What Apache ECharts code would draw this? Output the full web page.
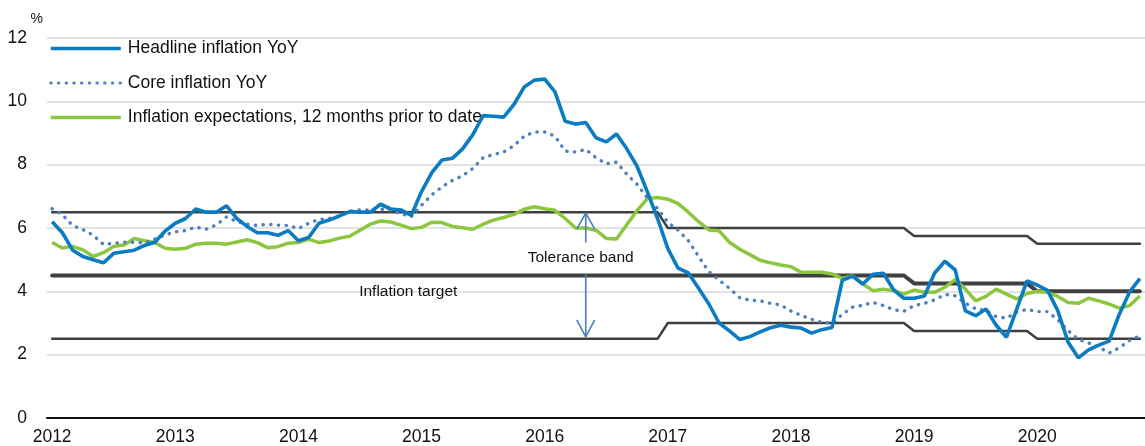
<!DOCTYPE html>
<html>
<head>
<meta charset="utf-8">
<script src="https://cdn.jsdelivr.net/npm/echarts@6/dist/echarts.min.js"></script>
<style>
  html, body { margin: 0; padding: 0; background: #fff; }
  #chart { width: 1145px; height: 446px; }
</style>
</head>
<body>
<div id="chart"></div>
<script>
// ---- DATA ----
const years = [2012, 2013, 2014, 2015, 2016, 2017, 2018, 2019, 2020];
const lastMonthOf2020 = 11;

// Headline inflation YoY, monthly from Jan 2012 to Nov 2020
const headline = [
  6.2, 5.85, 5.3, 5.1, 5.0, 4.9, 5.2, 5.25, 5.3, 5.45, 5.55, 5.9,
  6.15, 6.3, 6.6, 6.5, 6.5, 6.7, 6.3, 6.05, 5.85, 5.85, 5.77, 5.92,
  5.6, 5.7, 6.15, 6.25, 6.38, 6.52, 6.5, 6.5, 6.75, 6.6, 6.57, 6.4,
  7.15, 7.75, 8.15, 8.2, 8.5, 8.95, 9.55, 9.53, 9.5, 9.9, 10.45, 10.67,
  10.7, 10.3, 9.37, 9.28, 9.33, 8.85, 8.72, 8.97, 8.5, 7.95, 7.15, 6.3,
  5.35, 4.73, 4.58, 4.1, 3.6, 3.0, 2.75, 2.48, 2.57, 2.72, 2.85, 2.93,
  2.87, 2.84, 2.68, 2.79, 2.86, 4.35, 4.48, 4.23, 4.54, 4.57, 4.05, 3.78,
  3.78, 3.85, 4.58, 4.95, 4.68, 3.38, 3.23, 3.44, 2.93, 2.55, 3.44, 4.33,
  4.2, 4.03, 3.39, 2.4, 1.9, 2.15, 2.3, 2.43, 3.28, 3.98, 4.4
];

// Core inflation YoY
const core = [
  6.61, 6.42, 6.08, 5.95, 5.77, 5.48, 5.52, 5.55, 5.55, 5.53, 5.65, 5.78,
  5.88, 5.92, 6.03, 5.96, 6.1, 6.35, 6.2, 6.12, 6.08, 6.12, 6.09, 6.08,
  5.98, 6.15, 6.27, 6.3, 6.38, 6.53, 6.57, 6.57, 6.6, 6.56, 6.45, 6.36,
  6.72, 7.05, 7.3, 7.5, 7.65, 7.88, 8.22, 8.32, 8.4, 8.6, 8.9, 9.03,
  9.03, 8.9, 8.43, 8.4, 8.48, 8.22, 8.03, 8.08, 7.7, 7.38, 6.95, 6.62,
  6.18, 5.93, 5.6, 5.1, 4.62, 4.35, 4.1, 3.8, 3.72, 3.7, 3.62, 3.57,
  3.38, 3.24, 3.12, 3.02, 3.0, 3.27, 3.5, 3.56, 3.65, 3.55, 3.42, 3.37,
  3.55, 3.62, 3.73, 3.9, 3.86, 3.62, 3.45, 3.39, 3.2, 3.15, 3.35, 3.43,
  3.36, 3.36, 3.1, 2.76, 2.48, 2.37, 2.24, 2.05, 2.22, 2.45, 2.6
];

// Inflation expectations, 12 months prior to date
const expectations = [
  5.54, 5.37, 5.42, 5.31, 5.1, 5.22, 5.42, 5.46, 5.67, 5.6, 5.54, 5.36,
  5.33, 5.36, 5.49, 5.52, 5.52, 5.49, 5.56, 5.63, 5.54, 5.38, 5.41, 5.52,
  5.54, 5.65, 5.54, 5.59, 5.68, 5.74, 5.93, 6.12, 6.22, 6.19, 6.09, 5.98,
  6.02, 6.18, 6.17, 6.05, 6.01, 5.96, 6.12, 6.25, 6.33, 6.43, 6.59, 6.67,
  6.61, 6.56, 6.3, 6.0, 6.0, 5.93, 5.67, 5.65, 6.1, 6.55, 6.93, 6.96,
  6.91, 6.77, 6.5, 6.2, 5.94, 5.91, 5.55, 5.33, 5.16, 4.98, 4.9, 4.83,
  4.78, 4.6, 4.6, 4.6, 4.55, 4.41, 4.49, 4.23, 4.02, 4.07, 4.02, 3.91,
  4.04, 3.97, 3.97, 4.13, 4.37, 4.07, 3.7, 3.84, 4.07, 3.91, 3.76, 3.93,
  4.0, 3.97, 3.84, 3.65, 3.62, 3.78, 3.7, 3.6, 3.47, 3.55, 3.85
];

// Target and tolerance band by year (2012..2020)
const toleranceUpperByYear = [6.5, 6.5, 6.5, 6.5, 6.5, 6.0, 6.0, 5.75, 5.5];
const targetByYear         = [4.5, 4.5, 4.5, 4.5, 4.5, 4.5, 4.5, 4.25, 4.0];
const toleranceLowerByYear = [2.5, 2.5, 2.5, 2.5, 2.5, 3.0, 3.0, 2.75, 2.5];

const yTicks = [0, 2, 4, 6, 8, 10, 12];

// ---- BUILD ----
const categories = [];
const yearIdx = [];
years.forEach((y, yi) => {
  const n = (y === 2020) ? lastMonthOf2020 : 12;
  for (let m = 1; m <= n; m++) {
    categories.push(y + '-' + (m < 10 ? '0' + m : m));
    yearIdx.push(yi);
  }
});
const upper = yearIdx.map(i => toleranceUpperByYear[i]);
const target = yearIdx.map(i => targetByYear[i]);
const lower = yearIdx.map(i => toleranceLowerByYear[i]);

const FONT = '"Liberation Sans Narrow", "Arial Narrow", "Liberation Sans", Arial, sans-serif';
const isJan = (idx, val) => String(val).slice(5) === '01';

const C_HEAD = '#0b7cc1', C_CORE = '#4f7fc2', C_EXP = '#8cc63f';
const DOTS = [0.3, 7.4];

const chart = echarts.init(document.getElementById('chart'), null, { renderer: 'canvas' });

const bandLine = (name, data, w) => ({
  name, type: 'line', data, symbol: 'none', silent: true, z: 1,
  lineStyle: { color: '#404040', width: w, cap: 'round' },
  emphasis: { disabled: true }
});

chart.setOption({
  animation: false,
  textStyle: { fontFamily: FONT },
  grid: { left: 47, top: 38, width: 1105, height: 380 },
  legend: {
    orient: 'vertical', left: 44, top: 34.5,
    itemWidth: 70, itemHeight: 14, itemGap: 16.5,
    itemStyle: { opacity: 0 },
    data: [
      { name: 'Headline inflation YoY', itemStyle: { opacity: 0 }, lineStyle: { color: C_HEAD, width: 3.6 } },
      { name: 'Core inflation YoY', itemStyle: { opacity: 0 }, lineStyle: { color: C_CORE, width: 3.2, type: DOTS, cap: 'round' } },
      { name: 'Inflation expectations, 12 months prior to date', itemStyle: { opacity: 0 }, lineStyle: { color: C_EXP, width: 3.6 } }
    ],
    textStyle: { fontFamily: FONT, fontSize: 17.5, color: '#111', padding: [0, 0, 0, 2] },
    selectedMode: false
  },
  xAxis: {
    type: 'category', data: categories, boundaryGap: true,
    axisLine: { lineStyle: { color: '#111', width: 2 } },
    axisTick: { interval: isJan, inside: true, length: 5, lineStyle: { color: '#111', width: 1.5 } },
    axisLabel: {
      interval: isJan, formatter: v => v.slice(0, 4),
      fontFamily: FONT, fontSize: 17.5, color: '#111', margin: 10
    },
    splitLine: { show: false }
  },
  yAxis: {
    type: 'value', min: 0, max: 12, interval: 2,
    name: '%', nameLocation: 'end', nameGap: 12,
    nameTextStyle: { fontFamily: FONT, fontSize: 14, color: '#111', align: 'right', padding: [0, 4, 0, 0] },
    axisLine: { show: false }, axisTick: { show: false },
    axisLabel: { fontFamily: FONT, fontSize: 17.5, color: '#111', margin: 20,
      formatter: v => yTicks.indexOf(v) >= 0 ? String(v) : '' },
    splitLine: { lineStyle: { color: '#d9d9d9', width: 1.5 } }
  },
  series: [
    bandLine('Upper tolerance', upper, 2.5),
    bandLine('Inflation target', target, 4),
    bandLine('Lower tolerance', lower, 2.5),
    {
      name: 'Inflation expectations, 12 months prior to date', type: 'line', data: expectations,
      symbol: 'none', z: 3, lineStyle: { color: C_EXP, width: 3.5 }, itemStyle: { color: C_EXP }
    },
    {
      name: 'Core inflation YoY', type: 'line', data: core,
      symbol: 'none', z: 4,
      lineStyle: { color: C_CORE, width: 3.4, type: DOTS, cap: 'round' },
      itemStyle: { color: C_CORE }
    },
    {
      name: 'Headline inflation YoY', type: 'line', data: headline,
      symbol: 'none', z: 5, lineStyle: { color: C_HEAD, width: 3.6 }, itemStyle: { color: C_HEAD }
    }
  ]
});

// ---- annotations positioned through the chart's own scales ----
const arrowCat = '2016-05';
const pTop = chart.convertToPixel({ gridIndex: 0 }, [arrowCat, 6.5]);
const pBot = chart.convertToPixel({ gridIndex: 0 }, [arrowCat, 2.5]);
const pTxt = chart.convertToPixel({ gridIndex: 0 }, [arrowCat, 5.1]);
const pTgt = chart.convertToPixel({ gridIndex: 0 }, ['2014-12', 4.0]);
const ax = pTop[0];
const aCol = '#4a7ebb';
const aStyle = { stroke: aCol, lineWidth: 1.6, fill: null };
const head = 17, wing = 9;
chart.setOption({
  graphic: [
    { type: 'line', silent: true, z: 50, shape: { x1: ax, y1: pTop[1] + 1, x2: ax, y2: pTxt[1] - 14 }, style: aStyle },
    { type: 'polyline', silent: true, z: 50, shape: { points: [[ax - wing, pTop[1] + head], [ax, pTop[1] + 1], [ax + wing, pTop[1] + head]] }, style: aStyle },
    { type: 'line', silent: true, z: 50, shape: { x1: ax, y1: pTxt[1] + 18, x2: ax, y2: pBot[1] - 2 }, style: aStyle },
    { type: 'polyline', silent: true, z: 50, shape: { points: [[ax - wing, pBot[1] - 2 - head], [ax, pBot[1] - 2], [ax + wing, pBot[1] - 2 - head]] }, style: aStyle },
    { type: 'text', silent: true, z: 50, x: ax - 5, y: pTxt[1] + 1,
      style: { text: 'Tolerance band', font: '15.5px ' + FONT, fill: '#111', align: 'center', verticalAlign: 'middle' } },
    { type: 'text', silent: true, z: 50, x: pTgt[0] - 3, y: pTgt[1],
      style: { text: 'Inflation target', font: '15.5px ' + FONT, fill: '#111', align: 'center', verticalAlign: 'middle' } }
  ]
});
</script>
</body>
</html>
